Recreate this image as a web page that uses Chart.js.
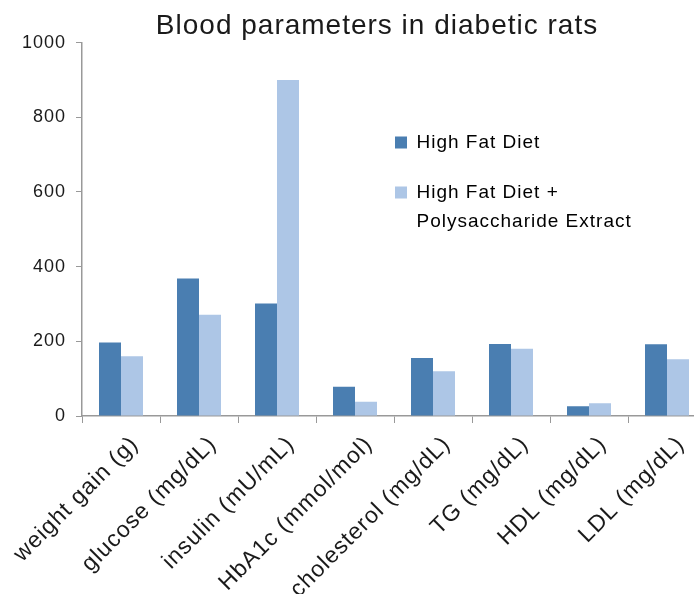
<!DOCTYPE html>
<html>
<head>
<meta charset="utf-8">
<script src="https://cdn.jsdelivr.net/npm/chart.js@4/dist/chart.umd.min.js"></script>
<style>
  html, body { margin: 0; padding: 0; background: #fff; overflow: hidden; }
  #wrap { width: 720px; height: 594px; position: relative; }
</style>
</head>
<body>
<div id="wrap"><canvas id="chart" width="720" height="594"></canvas></div>
<script>
// Chart values.
const categories = ['weight gain (g)', 'glucose (mg/dL)', 'insulin (mU/mL)', 'HbA1c (mmol/mol)',
  'cholesterol (mg/dL)', 'TG (mg/dL)', 'HDL (mg/dL)', 'LDL (mg/dL)'];
const highFat = [197, 368, 301, 78, 155, 193, 26, 192];
const highFatExtract = [160, 271, 900, 38, 120, 180, 34, 152];
const seriesNames = ['High Fat Diet', ['High Fat Diet +', 'Polysaccharide Extract']];
const yTicks = [0, 200, 400, 600, 800, 1000];

const axisGray = '#999999';
const textColor = '#1a1a1a';

// The original text is set a little wider than plain Arial.
const wideText = {
  id: 'wideText',
  beforeLayout(chart) { chart.ctx.letterSpacing = '1px'; },
  beforeDraw(chart) { chart.ctx.letterSpacing = '1px'; }
};

// Put the title and the legend where they sit in the original.
const boxSpots = {
  id: 'boxSpots',
  afterLayout(chart) {
    const t = chart.titleBlock;
    t.left += 24; t.right += 24;
    const lg = chart.legend;
    const dx = 364 - lg.left, dy = 102 - lg.top;
    lg.left += dx; lg.right += dx;
    lg.top += dy; lg.bottom += dy;
  }
};

const chart = new Chart('chart', {
  type: 'bar',
  data: {
    labels: categories,
    datasets: [{
      label: seriesNames[0],
      data: highFat,
      backgroundColor: '#4a7eb1'
    }, {
      label: seriesNames[1],
      data: highFatExtract,
      backgroundColor: '#adc6e6'
    }]
  },
  plugins: [wideText, boxSpots],
  options: {
    responsive: false,
    animation: false,
    devicePixelRatio: 1,
    layout: { padding: { left: 0, right: 14, top: 0, bottom: 0 } },
    datasets: { bar: { categoryPercentage: 0.564, barPercentage: 1.0 } },
    plugins: {
      title: {
        display: true,
        text: 'Blood parameters in diabetic rats',
        color: textColor,
        font: { family: 'Liberation Sans', size: 28, weight: 'normal', lineHeight: 1.2 },
        padding: { top: 9, bottom: 0 }
      },
      legend: {
        position: 'chartArea',
        align: 'start',
        labels: {
          boxWidth: 12,
          boxHeight: 12,
          padding: 31,
          color: textColor,
          font: { family: 'Liberation Sans', size: 19, lineHeight: 1.53 },
          generateLabels(chart) {
            return chart.data.datasets.map((ds, i) => ({
              text: ds.label,
              fillStyle: ds.backgroundColor,
              strokeStyle: ds.backgroundColor,
              lineWidth: 0,
              datasetIndex: i
            }));
          }
        }
      },
      tooltip: { enabled: false }
    },
    scales: {
      x: {
        grid: { display: true, drawOnChartArea: false, offset: true, tickLength: 7, tickColor: axisGray },
        border: { display: true, color: axisGray, width: 1.5 },
        ticks: {
          color: textColor,
          font: { family: 'Liberation Sans', size: 23 },
          minRotation: 45,
          maxRotation: 45,
          autoSkip: false,
          padding: 8,
          labelOffset: 14
        },
        afterFit(scale) {
          scale.height = 178;
          scale.paddingLeft = 0;
          scale.paddingRight = 0;
        }
      },
      y: {
        min: 0,
        max: 1000,
        afterBuildTicks(scale) { scale.ticks = yTicks.map(v => ({ value: v })); },
        grid: { display: true, drawOnChartArea: false, tickLength: 6, tickColor: axisGray },
        border: { display: true, color: axisGray, width: 1.5 },
        ticks: {
          color: textColor,
          font: { family: 'Liberation Sans', size: 18 },
          padding: 10,
          callback: v => String(v)
        },
        afterFit(scale) {
          scale.width = 82;
          scale.paddingTop = 0;
          scale.paddingBottom = 0;
        }
      }
    }
  }
});
</script>
</body>
</html>
